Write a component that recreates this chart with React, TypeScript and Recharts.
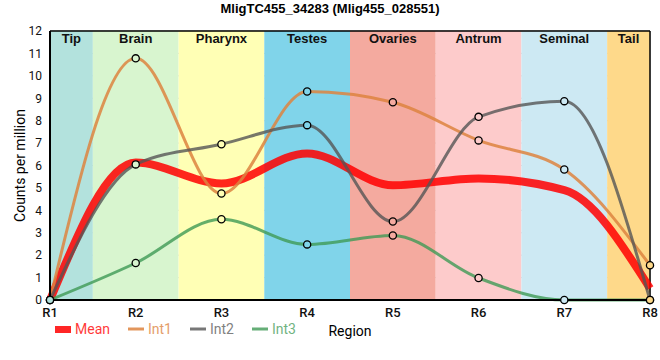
import React from "react";
import {
  LineChart,
  Line,
  XAxis,
  YAxis,
  CartesianGrid,
  ReferenceArea,
  ReferenceLine,
} from "recharts";

const regionPos = [1, 2, 3, 4, 5, 6, 7, 8];
const regionLabels = ["R1", "R2", "R3", "R4", "R5", "R6", "R7", "R8"];

const meanValues = [0, 6.13, 5.2, 6.54, 5.12, 5.42, 4.9, 0.52];
const int1Values = [0, 10.78, 4.75, 9.3, 8.82, 7.12, 5.82, 1.55];
const int2Values = [0, 6.05, 6.95, 7.8, 3.5, 8.17, 8.87, 0];
const int3Values = [0, 1.65, 3.6, 2.48, 2.88, 0.98, 0, 0];

const tissues = ["Tip", "Brain", "Pharynx", "Testes", "Ovaries", "Antrum", "Seminal", "Tail"];
const tissueStart = [1, 1.5, 2.5, 3.5, 4.5, 5.5, 6.5, 7.5];
const tissueEnd = [1.5, 2.5, 3.5, 4.5, 5.5, 6.5, 7.5, 8];
const tissueColors = ["#b3e2dd", "#d8f5cf", "#ffffb5", "#80d4ea", "#f4aa9f", "#fdcbcb", "#cde9f3", "#fed98a"];

const yTicks = [0, 1, 2, 3, 4, 5, 6, 7, 8, 9, 10, 11, 12];

const series = [
  { key: "Mean", color: "#ff0000", width: 8, opacity: 0.85, dots: false },
  { key: "Int1", color: "#dd8440", width: 3, opacity: 0.85, dots: true },
  { key: "Int2", color: "#555555", width: 3, opacity: 0.8, dots: true },
  { key: "Int3", color: "#3f9a55", width: 3, opacity: 0.8, dots: true },
];

const data = regionPos.map((x, i) => ({
  x,
  Mean: meanValues[i],
  Int1: int1Values[i],
  Int2: int2Values[i],
  Int3: int3Values[i],
}));

const bandFont = "'Liberation Sans', Arial, sans-serif";

// hollow-looking markers: filled with the colour of the band behind them
const bandColorAt = (x: number) => {
  const i = tissueStart.findIndex((s, k) => x >= s && x <= tissueEnd[k]);
  return i >= 0 ? tissueColors[i] : "#fff";
};

const HollowDot = (props: any) => {
  const { cx, cy, payload, index } = props;
  if (cx == null || cy == null) return null;
  return (
    <circle
      key={index}
      cx={cx}
      cy={cy}
      r={3.6}
      fill={bandColorAt(payload.x)}
      stroke="#000"
      strokeWidth={1.3}
    />
  );
};

// legend drawn by hand so it sits left of the axis title like the original
const ChartLegend = () => (
  <div
    style={{
      position: "absolute",
      left: 55,
      top: 321,
      display: "flex",
      fontFamily: "Roboto, sans-serif",
      fontSize: 14,
    }}
  >
    {series.map((s) => (
      <div key={s.key} style={{ display: "flex", alignItems: "center", marginRight: 18 }}>
        <svg width={16} height={10} style={{ marginRight: 4 }}>
          {s.dots ? (
            <line x1={0} x2={16} y1={5} y2={5} stroke={s.color} strokeOpacity={s.opacity} strokeWidth={3} />
          ) : (
            <rect x={0} y={2} width={16} height={7} fill={s.color} fillOpacity={s.opacity} />
          )}
        </svg>
        <span style={{ color: s.color, opacity: s.opacity * 0.8 + 0.1 }}>{s.key}</span>
      </div>
    ))}
  </div>
);

export default function App() {
  return (
    <div style={{ position: "absolute", left: 0, top: 0, width: 660, height: 360, background: "#fff" }}>
      <div
        style={{
          position: "absolute",
          top: 1,
          left: 0,
          width: 660,
          textAlign: "center",
          fontFamily: bandFont,
          fontWeight: "bold",
          fontSize: 13,
        }}
      >
        MligTC455_34283 (Mlig455_028551)
      </div>
      <LineChart width={660} height={360} data={data} margin={{ top: 31, right: 10, bottom: 20, left: 0 }}>
        {tissues.map((t, i) => (
          <ReferenceArea
            key={t}
            x1={tissueStart[i]}
            x2={tissueEnd[i]}
            y1={0}
            y2={12}
            fill={tissueColors[i]}
            fillOpacity={1}
            stroke="none"
            ifOverflow="hidden"
            label={{
              value: t,
              position: "insideTop",
              offset: 3,
              fill: "#111",
              fontFamily: bandFont,
              fontWeight: "bold",
              fontSize: 13,
            }}
          />
        ))}
        <CartesianGrid stroke="#c9c9c9" strokeWidth={1} />
        <ReferenceLine y={12} stroke="#000" strokeWidth={1.5} />
        <ReferenceLine x={8} stroke="#000" strokeWidth={1.5} />
        <XAxis
          dataKey="x"
          type="number"
          domain={[1, 8]}
          ticks={regionPos}
          tickFormatter={(v: number) => regionLabels[regionPos.indexOf(v)]}
          tickLine={false}
          axisLine={{ stroke: "#000", strokeWidth: 2 }}
          tick={{ fill: "#111", fontFamily: "Roboto, sans-serif", fontSize: 13, fontWeight: 500 }}
          height={40}
          label={{
            value: "Region",
            position: "insideBottom",
            offset: 4,
            fill: "#000",
            fontFamily: "Roboto, sans-serif",
            fontSize: 14,
          }}
        />
        <YAxis
          type="number"
          domain={[0, 12]}
          ticks={yTicks}
          interval={0}
          tickLine={false}
          axisLine={{ stroke: "#000", strokeWidth: 2 }}
          tick={{ fill: "#111", fontFamily: "Roboto, sans-serif", fontSize: 12 }}
          width={50}
          label={{
            value: "Counts per million",
            angle: -90,
            position: "center",
            dx: -5,
            fill: "#000",
            fontFamily: "Roboto, sans-serif",
            fontSize: 14,
          }}
        />
        {series.map((s) => (
          <Line
            key={s.key}
            type="monotone"
            dataKey={s.key}
            stroke={s.color}
            strokeOpacity={s.opacity}
            strokeWidth={s.width}
            dot={s.dots ? <HollowDot /> : false}
            activeDot={false}
            isAnimationActive={false}
          />
        ))}
      </LineChart>
      <ChartLegend />
    </div>
  );
}
